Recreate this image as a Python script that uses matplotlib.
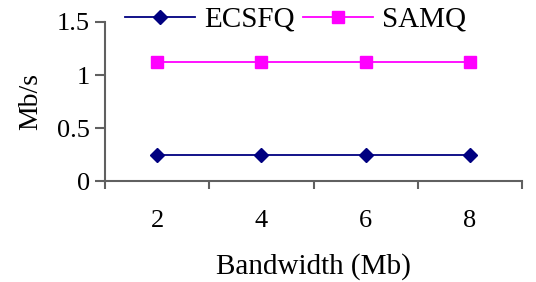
import matplotlib
matplotlib.use("Agg")
import matplotlib.pyplot as plt

# data
categories = ["2", "4", "6", "8"]
ecsfq = [0.25, 0.25, 0.25, 0.25]
samq = [1.12, 1.12, 1.12, 1.12]

plt.rcParams['font.family'] = ['Liberation Serif', 'DejaVu Serif']

fig = plt.figure(figsize=(5.36, 2.82), dpi=100)
ax = fig.add_axes([0.196, 0.358, 0.778, 0.564])

x = list(range(len(categories)))
ax.plot(x, ecsfq, color='#000080', marker='D', markersize=7, lw=1.3, label='ECSFQ')
ax.plot(x, samq, color='#FF00FF', marker='s', markersize=8, lw=1.3, label='SAMQ')

ax.set_xlim(-0.5, len(categories) - 0.5)
ax.set_ylim(0, 1.5)
ax.set_yticks([0, 0.5, 1, 1.5])
ax.set_yticklabels(['0', '0.5', '1', '1.5'])

# excel-style category axis: ticks between categories, labels at centers
ax.set_xticks([i - 0.5 for i in range(len(categories) + 1)])
ax.set_xticklabels([])
ax.set_xticks(x, minor=True)
ax.set_xticklabels(categories, minor=True)
ax.tick_params(axis='x', which='minor', length=0, pad=21, labelsize=19)
ax.tick_params(axis='x', which='major', length=6, width=1.5, color='#606060', direction='out')
ax.tick_params(axis='y', length=7, width=1.5, color='#606060', labelsize=19, pad=4)

for s in ['top', 'right']:
    ax.spines[s].set_visible(False)
for s in ['left', 'bottom']:
    ax.spines[s].set_color('#606060')
    ax.spines[s].set_linewidth(1.5)

ax.set_ylabel('Mb/s', fontsize=20, labelpad=10)
ax.set_xlabel('Bandwidth (Mb)', fontsize=21, labelpad=15)

fig.legend(loc='center', bbox_to_anchor=(0.552, 0.93), ncol=2, frameon=False,
           fontsize=21, handlelength=2.4, handletextpad=0.3, columnspacing=0.3)

fig.savefig('out.png', dpi=100)
